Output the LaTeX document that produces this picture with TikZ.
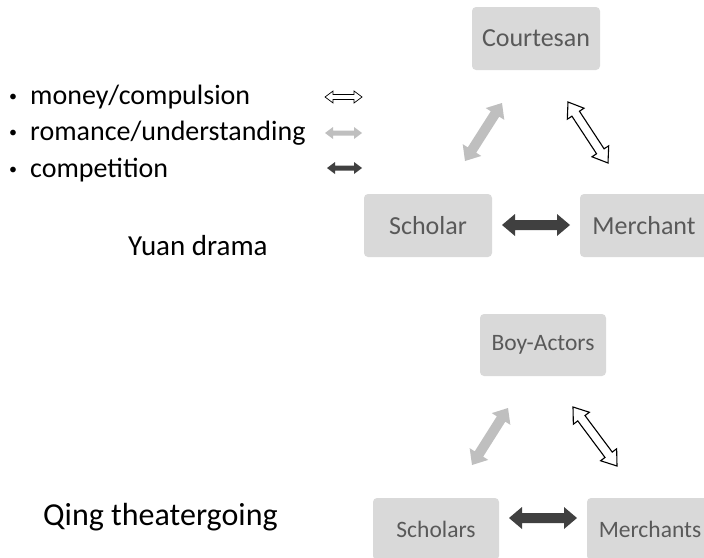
\documentclass[tikz,border=0pt]{standalone}
\usepackage{fontspec}
\setmainfont{Carlito}
\usetikzlibrary{calc}
\definecolor{boxgray}{HTML}{D9D9D9}
\definecolor{labelgray}{HTML}{595959}
\definecolor{lightarrow}{HTML}{BFBFBF}
\definecolor{darkarrow}{HTML}{404040}
\newcommand{\legbullet}{\makebox[25pt][l]{\hspace{4pt}\raisebox{3pt}{\fontsize{16}{16}\selectfont •}}}
\tikzset{
  box/.style={fill=boxgray, rounded corners=4pt, inner sep=0pt, text=labelgray},
  bigbox/.style={box, minimum width=128pt, minimum height=63pt, font=\fontsize{26}{30}\selectfont},
  smallbox/.style={box, minimum width=126pt, minimum height=62pt, font=\fontsize{23.5}{28}\selectfont},
  blockarrow/.style n args={3}{to path={
     -- ($(\tikztostart)!#1!(\tikztotarget)!#2!90:(\tikztotarget)$)
     -- ($(\tikztostart)!#1!(\tikztotarget)!#3!90:(\tikztotarget)$)
     -- ($(\tikztotarget)!#1!(\tikztostart)!#3!-90:(\tikztostart)$)
     -- ($(\tikztotarget)!#1!(\tikztostart)!#2!-90:(\tikztostart)$)
     -- (\tikztotarget)
     -- ($(\tikztotarget)!#1!(\tikztostart)!#2!90:(\tikztostart)$)
     -- ($(\tikztotarget)!#1!(\tikztostart)!#3!90:(\tikztostart)$)
     -- ($(\tikztostart)!#1!(\tikztotarget)!#3!-90:(\tikztotarget)$)
     -- ($(\tikztostart)!#1!(\tikztotarget)!#2!-90:(\tikztotarget)$)
     -- cycle}},
  big/.style={blockarrow={13pt}{11pt}{5pt}},
  whitebig/.style={blockarrow={14pt}{10pt}{4.5pt}},
  small/.style={blockarrow={8pt}{6pt}{2.5pt}},
  money/.style={draw=black, fill=white, line width=1.1pt, line join=miter},
  romance/.style={fill=lightarrow},
  rivalry/.style={fill=darkarrow},
  legend/.style={anchor=base west, inner sep=0pt, font=\fontsize{28}{34}\selectfont},
  title/.style={anchor=base west, inner sep=0pt},
}
\begin{document}
\begin{tikzpicture}[x=1pt,y=-1pt]
\useasboundingbox (0,0) rectangle (704,557);
\clip (0,0) rectangle (704,557);

% legend
\node[legend] (l1) at (5,104) {\legbullet money/compulsion};
\node[legend] (l2) at (5,140) {\legbullet romance/understanding};
\node[legend] (l3) at (5,177) {\legbullet competition};
\coordinate (la1) at (325,97);  \coordinate (lb1) at (362,97);
\coordinate (la2) at (325,133); \coordinate (lb2) at (362,133);
\coordinate (la3) at (327,168); \coordinate (lb3) at (362,168);
\draw[money, line width=0.7pt] (la1) to[small] (lb1);
\path[romance] (la2) to[small] (lb2);
\path[rivalry] (la3) to[small] (lb3);

% titles
\node[title, font=\fontsize{29}{34}\selectfont] (yuan) at (128,255) {Yuan drama};
\node[title, font=\fontsize{32}{38}\selectfont] (qing) at (43,525) {Qing theatergoing};

% Yuan drama triangle
\node[bigbox] (courtesan) at (536,38.5) {Courtesan};
\node[bigbox] (scholar) at (428,225.5) {Scholar};
\node[bigbox] (merchant) at (644,225.5) {Merchant};
\coordinate (ys1) at (465,161); \coordinate (yc1) at (502,103);
\coordinate (yc2) at (568,102); \coordinate (ym2) at (608,163);
\coordinate (ys3) at (502,225); \coordinate (ym3) at (570,225);
\path[romance] (ys1) to[big] (yc1);
\draw[money] (yc2) to[whitebig] (ym2);
\path[rivalry] (ys3) to[big] (ym3);

% Qing theatergoing triangle
\node[smallbox] (boyactors) at (543,345) {Boy-Actors};
\node[smallbox] (scholars) at (436,529) {Scholars};
\node[smallbox] (merchants) at (650,529) {Merchants};
\coordinate (qs1) at (472,465); \coordinate (qb1) at (508,408);
\coordinate (qb2) at (573,407); \coordinate (qm2) at (617,466);
\coordinate (qs3) at (509,518); \coordinate (qm3) at (577,518);
\path[romance] (qs1) to[big] (qb1);
\draw[money] (qb2) to[whitebig] (qm2);
\path[rivalry] (qs3) to[big] (qm3);
\end{tikzpicture}
\end{document}
